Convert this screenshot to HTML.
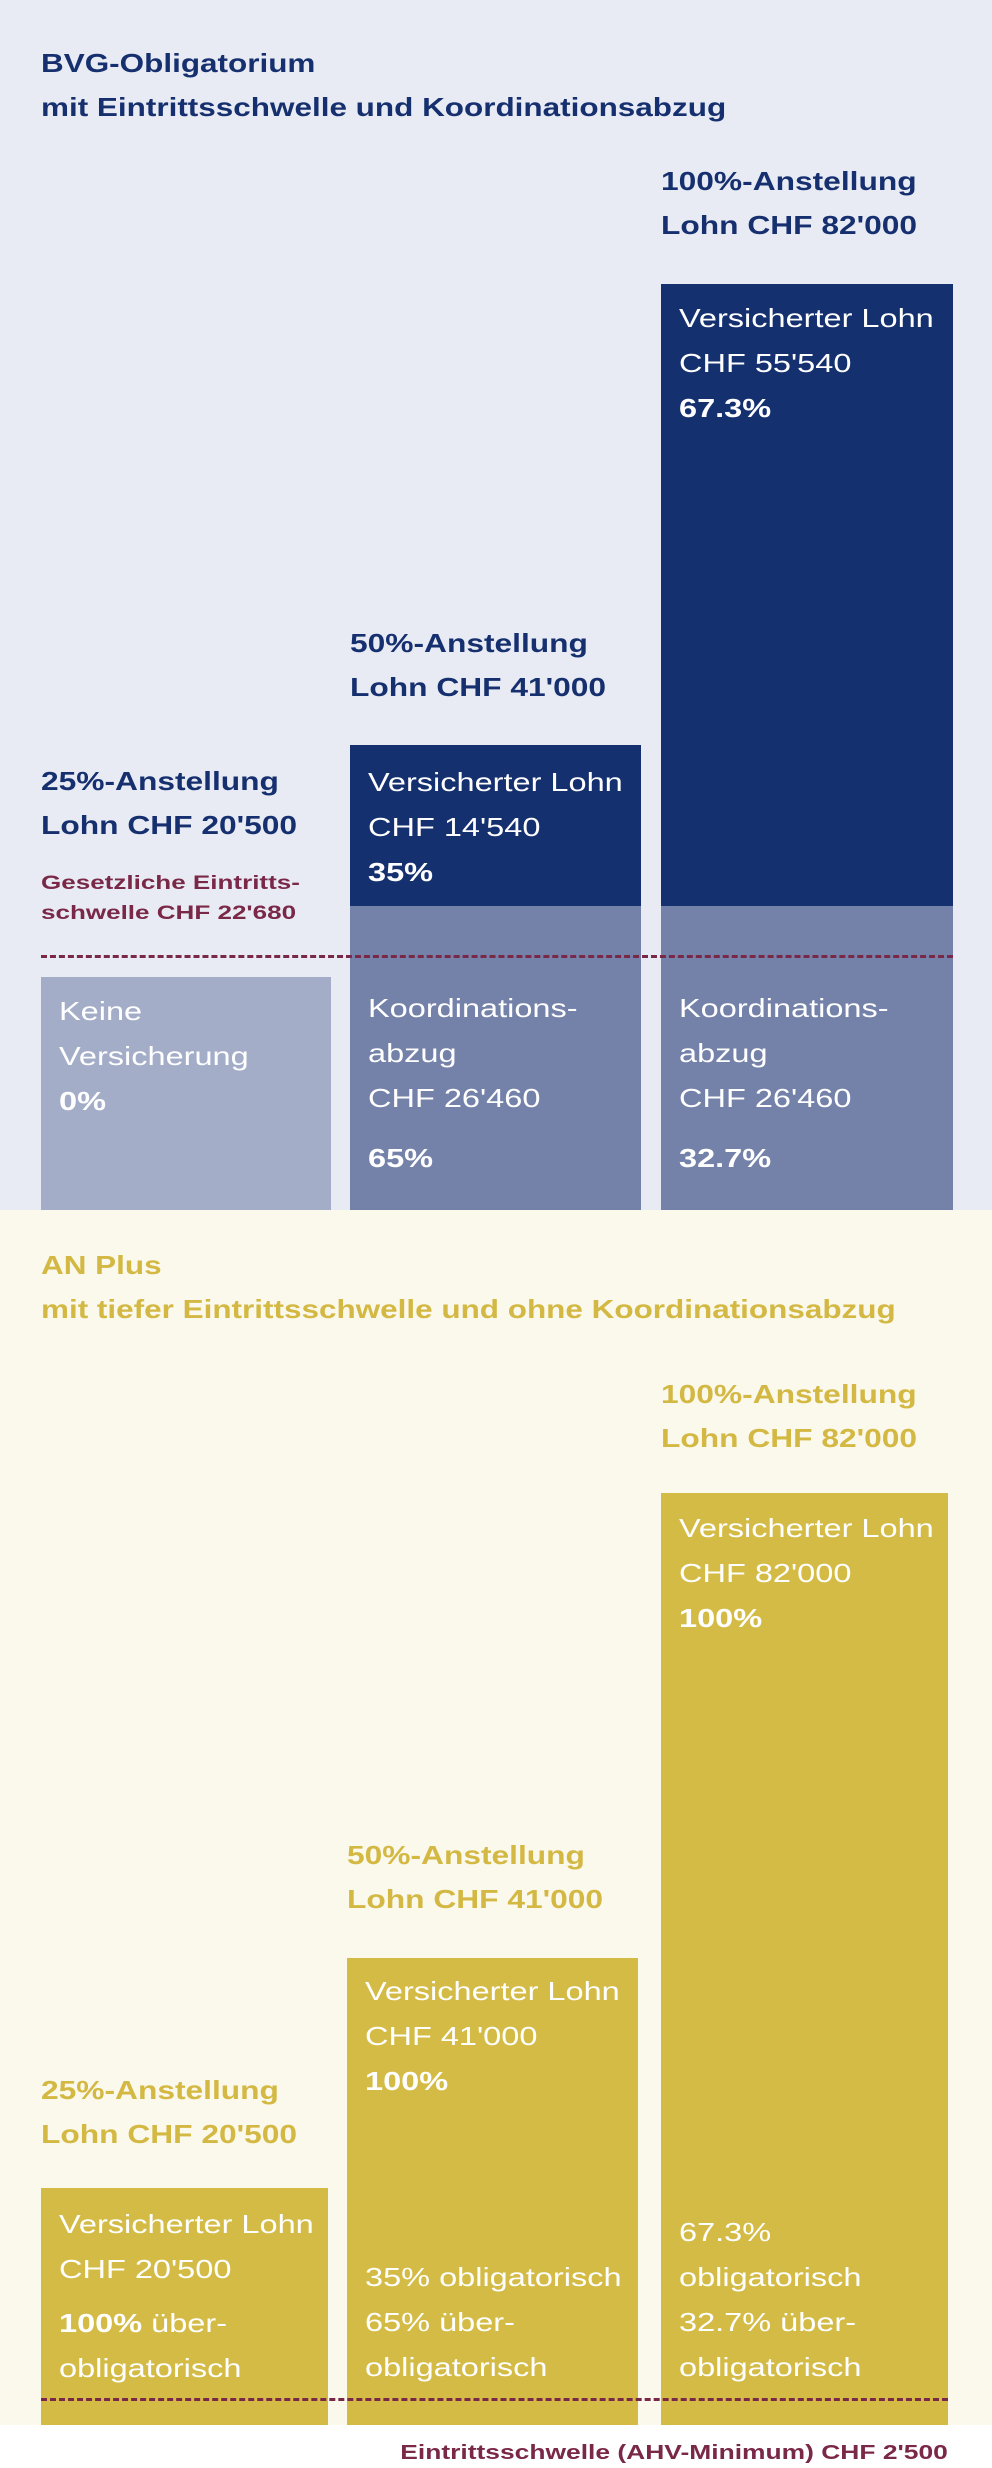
<!DOCTYPE html>
<html><head><meta charset="utf-8"><style>
body{margin:0;width:992px;height:2468px;position:relative;background:#fff;font-family:"Liberation Sans",sans-serif;overflow:hidden}
div{position:absolute;white-space:nowrap}
.t{font-size:26px;line-height:45px;color:#fff;transform:scaleX(1.25);transform-origin:0 0}
.h{font-size:26px;font-weight:bold;line-height:44px;transform:scaleX(1.22);transform-origin:0 0}
.ti{font-size:26px;font-weight:bold;line-height:44px;transform:scaleX(1.21);transform-origin:0 0}
.nb{color:#16306f}.gd{color:#d3b943}
b{font-weight:bold}
</style></head><body>
<div style="left:0;top:0;width:992px;height:1210px;background:#e8ebf3"></div>
<div style="left:0;top:1210px;width:992px;height:1215px;background:#fbf8ec"></div>

<div class="ti nb" style="left:41px;top:41px">BVG-Obligatorium<br>mit Eintrittsschwelle und Koordinationsabzug</div>

<div style="left:41px;top:977px;width:290px;height:233px;background:#a3adc8"></div>
<div style="left:350px;top:745px;width:291px;height:161px;background:#15306f"></div>
<div style="left:350px;top:906px;width:291px;height:304px;background:#7482aa"></div>
<div style="left:661px;top:284px;width:292px;height:622px;background:#15306f"></div>
<div style="left:661px;top:906px;width:292px;height:304px;background:#7482aa"></div>
<div style="left:41px;top:955px;width:912px;border-top:3px dashed #7a2848"></div>

<div class="h nb" style="left:661px;top:159px">100%-Anstellung<br>Lohn CHF 82'000</div>
<div class="h nb" style="left:350px;top:621px">50%-Anstellung<br>Lohn CHF 41'000</div>
<div class="h nb" style="left:41px;top:759px">25%-Anstellung<br>Lohn CHF 20'500</div>
<div style="left:41px;top:869px;font-size:19px;font-weight:bold;line-height:30px;color:#7a2848;transform:scaleX(1.37);transform-origin:0 0">Gesetzliche Eintritts-<br>schwelle CHF 22'680</div>

<div class="t" style="left:679px;top:296px">Versicherter Lohn<br>CHF 55'540<br><b>67.3%</b></div>
<div class="t" style="left:368px;top:760px">Versicherter Lohn<br>CHF 14'540<br><b>35%</b></div>
<div class="t" style="left:59px;top:989px">Keine<br>Versicherung<br><b>0%</b></div>
<div class="t" style="left:368px;top:986px">Koordinations-<br>abzug<br>CHF 26'460</div>
<div class="t" style="left:368px;top:1136px"><b>65%</b></div>
<div class="t" style="left:679px;top:986px">Koordinations-<br>abzug<br>CHF 26'460</div>
<div class="t" style="left:679px;top:1136px"><b>32.7%</b></div>

<div class="ti gd" style="left:41px;top:1243px">AN Plus<br>mit tiefer Eintrittsschwelle und ohne Koordinationsabzug</div>
<div class="h gd" style="left:661px;top:1372px">100%-Anstellung<br>Lohn CHF 82'000</div>
<div class="h gd" style="left:347px;top:1833px">50%-Anstellung<br>Lohn CHF 41'000</div>
<div class="h gd" style="left:41px;top:2068px">25%-Anstellung<br>Lohn CHF 20'500</div>

<div style="left:661px;top:1493px;width:287px;height:932px;background:#d4bb45"></div>
<div style="left:347px;top:1958px;width:291px;height:467px;background:#d4bb45"></div>
<div style="left:41px;top:2188px;width:287px;height:237px;background:#d4bb45"></div>
<div style="left:41px;top:2398px;width:907px;border-top:3px dashed #7a2848"></div>

<div class="t" style="left:679px;top:1506px">Versicherter Lohn<br>CHF 82'000<br><b>100%</b></div>
<div class="t" style="left:679px;top:2210px">67.3%<br>obligatorisch<br>32.7% über-<br>obligatorisch</div>
<div class="t" style="left:365px;top:1969px">Versicherter Lohn<br>CHF 41'000<br><b>100%</b></div>
<div class="t" style="left:365px;top:2255px">35% obligatorisch<br>65% über-<br>obligatorisch</div>
<div class="t" style="left:59px;top:2202px">Versicherter Lohn<br>CHF 20'500</div>
<div class="t" style="left:59px;top:2301px"><b>100%</b> über-<br>obligatorisch</div>

<div style="right:44px;top:2438px;font-size:20px;font-weight:bold;line-height:30px;color:#7a2848;transform:scaleX(1.32);transform-origin:100% 0">Eintrittsschwelle (AHV-Minimum) CHF 2'500</div>
</body></html>
